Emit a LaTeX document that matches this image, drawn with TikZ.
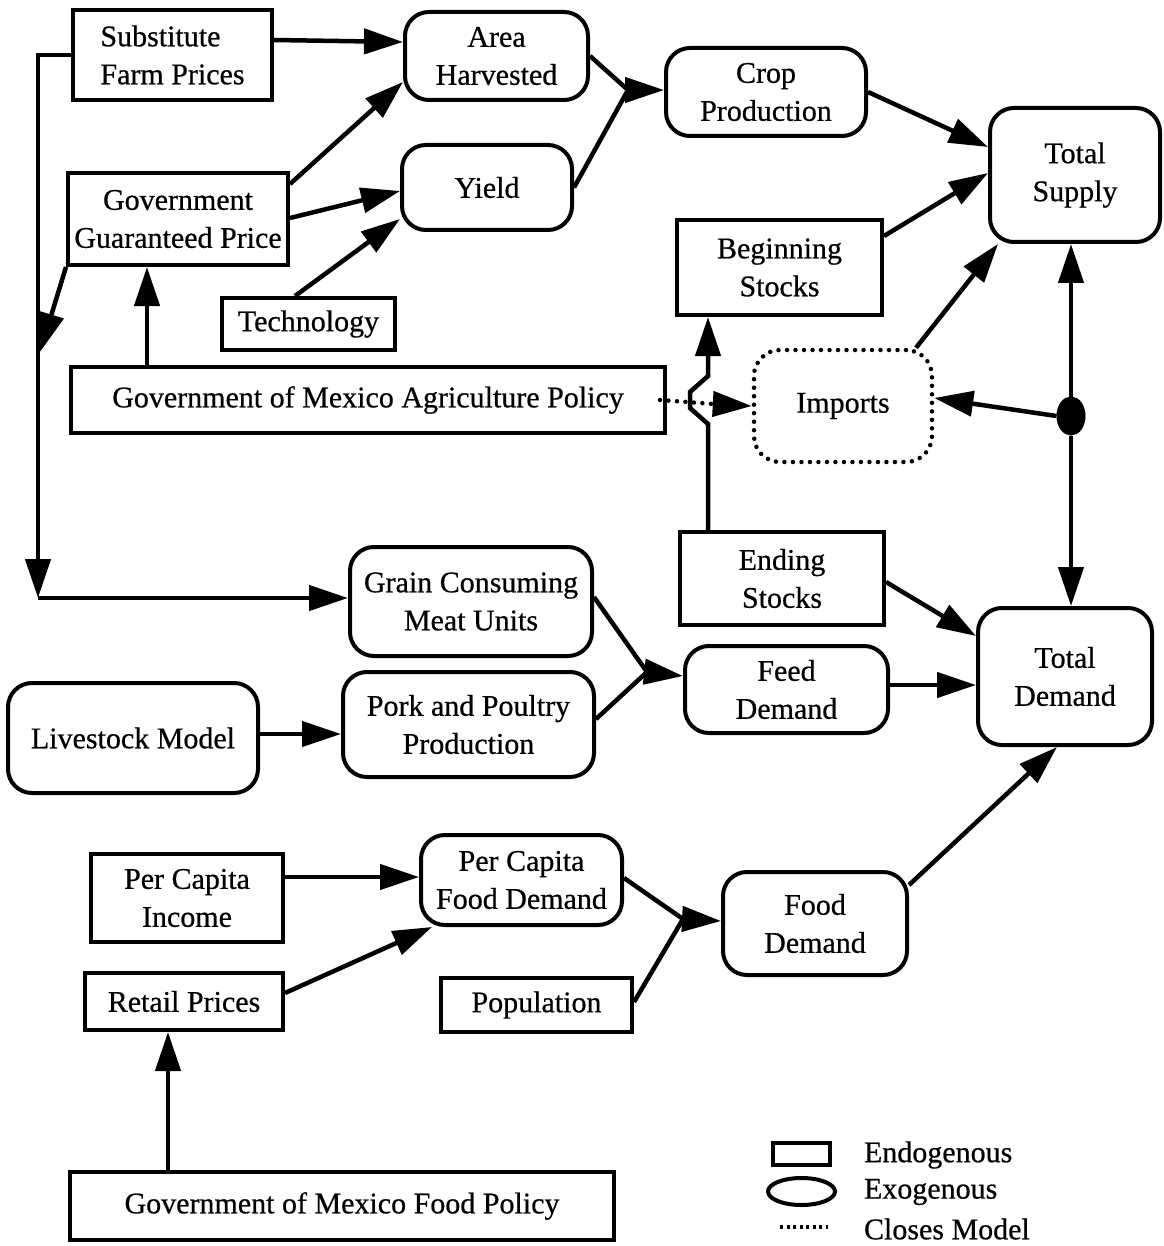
\documentclass[tikz,border=0pt]{standalone}
\usepackage{fontspec}
\setmainfont{Liberation Serif}[FakeBold=0.6]
\usetikzlibrary{arrows.meta,shapes.geometric}
\begin{document}
\begin{tikzpicture}[x=1pt,y=-1pt,
  every node/.style={font=\fontsize{30}{38}\selectfont, align=center, inner sep=0pt, line width=4pt},
  endo/.style n args={2}{draw, rectangle, minimum width=#1, minimum height=#2},
  exo/.style n args={2}{draw, rectangle, rounded corners=24pt, minimum width=#1, minimum height=#2},
  ln/.style={line width=4.5pt},
  arr/.style={line width=4.5pt, -{Triangle[length=39pt,width=25pt]}},
  dotline/.style={line width=4.5pt, line cap=round, dash pattern=on 0pt off 8.5pt},
]
\useasboundingbox (0,0) rectangle (1163,1246);

% nodes
\node[endo={199}{90}, align=left] (sfp) at (172.5,55) {Substitute\\Farm Prices};
\node[exo={183}{88}] (area) at (496.5,56) {Area\\Harvested};
\node[exo={200}{88}] (crop) at (766,92) {Crop\\Production};
\node[exo={170}{134}] (tsup) at (1075,175) {Total\\Supply};
\node[endo={220}{92}] (ggp) at (178,219) {Government\\Guaranteed Price};
\node[exo={170}{85}] (yield) at (487,187.5) {Yield};
\node[endo={173}{52}] (tech) at (308.5,324) {Technology};
\node[endo={205}{95}] (bstk) at (779.5,267.5) {Beginning\\Stocks};
\node[endo={594}{66}] (agpol) at (368,400) {Government of Mexico Agriculture Policy};
\node[rectangle, rounded corners=26pt, minimum width=178, minimum height=112, draw, dotline] (imp) at (843,406) {Imports};
\node[endo={204}{93}] (estk) at (782,578.5) {Ending\\Stocks};
\node[exo={242}{109}] (gcmu) at (471,601.5) {Grain Consuming\\Meat Units};
\node[exo={174}{137}] (tdem) at (1065,676.5) {Total\\Demand};
\node[exo={203}{87}] (feed) at (786.5,689.5) {Feed\\Demand};
\node[exo={250}{110}] (lsm) at (133,738) {Livestock Model};
\node[exo={251}{105}] (pork) at (468.5,724.5) {Pork and Poultry\\Production};
\node[endo={192}{88}] (pci) at (187,898) {Per Capita\\Income};
\node[exo={201}{90}] (pcfd) at (521.5,880) {Per Capita\\Food Demand};
\node[exo={184}{103}] (food) at (815,923.5) {Food\\Demand};
\node[endo={198}{57}] (retail) at (184,1001.5) {Retail Prices};
\node[endo={191}{54}] (pop) at (536.5,1005) {Population};
\node[endo={544}{68}] (fpol) at (342,1206) {Government of Mexico Food Policy};

% junction dot
\node[draw, fill, ellipse, minimum width=25, minimum height=35] (jd) at (1071,416) {};

% helper coordinates
\coordinate (c1) at (38,55);
\coordinate (c2) at (38,598);
\coordinate (c3) at (40,352);
\coordinate (j1) at (628,90);
\coordinate (j2) at (647,672);
\coordinate (j3) at (683,919);
\coordinate (h1) at (708,424);
\coordinate (h2) at (690,408);
\coordinate (h3) at (690,392);
\coordinate (h4) at (708,376);
\coordinate (dh) at (714,404);

% connectors
\draw[arr] (sfp.east |- 0,40) -- (area.west |- 0,42);
\draw[arr] (sfp.west) -- (c1) -- (c2);
\draw[arr] (c2) -- (gcmu.west |- c2);
\draw[arr] (ggp.south west) -- (c3);
\draw[arr] (ggp.east |- 0,184) -- (area.west |- 0,82);
\draw[arr] (ggp.east |- 0,218) -- (yield.west |- 0,191);
\draw[arr] (tech.north -| 295,0) -- (yield.west |- 0,219);
\draw[ln] (area.east) -- (j1);
\draw[ln] (yield.east) -- (j1);
\draw[arr] (j1) -- (crop.west |- j1);
\draw[arr] (crop.east) -- (tsup.west |- 0,147);
\draw[arr] (bstk.east |- 0,236) -- (tsup.west |- 0,173);
\draw[arr] (imp.north -| 916,0) -- (tsup.south -| 998,0);
\draw[arr] (agpol.north -| 147,0) -- (ggp.south -| 147,0);
\draw[dotline] ([xshift=-7pt]agpol.east) -- (dh);
\draw[arr] (dh) -- (imp.west);
\draw[arr] (estk.north -| 708,0) -- (h1) -- (h2) -- (h3) -- (h4) -- (bstk.south -| 708,0);
\draw[arr] (jd.north) -- (tsup.south -| jd);
\draw[arr] (jd.south) -- (tdem.north -| jd);
\draw[arr] (jd.west) -- (imp.east |- 0,398);
\draw[arr] (estk.east |- 0,582) -- (tdem.west |- 0,636);
\draw[ln] (gcmu.east |- 0,597) -- (j2);
\draw[ln] (pork.east |- 0,719) -- (j2);
\draw[arr] (j2) -- (feed.west |- 0,676);
\draw[arr] (feed.east |- 0,685) -- (tdem.west |- 0,685);
\draw[arr] (lsm.east |- 0,734) -- (pork.west |- 0,734);
\draw[arr] (pci.east |- 0,877) -- (pcfd.west |- 0,877);
\draw[arr] (retail.east |- 0,993) -- (pcfd.south -| 432,0);
\draw[ln] (pcfd.east |- 0,878) -- (j3);
\draw[ln] (pop.east |- 0,1002) -- (j3);
\draw[arr] (j3) -- (food.west |- 0,921);
\draw[arr] (food.east |- 0,885) -- (tdem.south -| 1057,0);
\draw[arr] (fpol.north -| 168,0) -- (retail.south -| 168,0);

% legend
\node[draw, rectangle, minimum width=57, minimum height=22] (lgr) at (801.5,1154) {};
\node[draw, ellipse, minimum width=67, minimum height=27] (lge) at (801.5,1191.5) {};
\coordinate (ld1) at (780,1227);
\coordinate (ld2) at (828,1227);
\draw[line width=3.5pt, dash pattern=on 3pt off 3.5pt] (ld1) -- (ld2);
\node[anchor=west] (lt1) at (862,1155) {Endogenous};
\node[anchor=west] (lt2) at (862,1192) {Exogenous};
\node[anchor=west] (lt3) at (862,1229) {Closes Model};
\end{tikzpicture}
\end{document}
